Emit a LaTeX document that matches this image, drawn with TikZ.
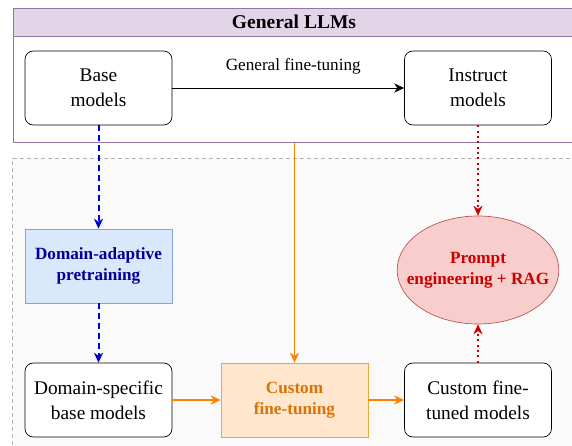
\documentclass[tikz,border=0pt]{standalone}
\usepackage{fontspec}
\setmainfont{Liberation Serif}
\usepackage{xcolor}
\definecolor{llmfill}{HTML}{E1D5E7}
\definecolor{llmdraw}{HTML}{9673A6}
\definecolor{daptfill}{HTML}{DAE8FC}
\definecolor{daptdraw}{HTML}{7EA6E0}
\definecolor{dapttext}{HTML}{000099}
\definecolor{cftfill}{HTML}{FFE6CC}
\definecolor{cftdraw}{HTML}{E6A93A}
\definecolor{cfttext}{HTML}{D97306}
\definecolor{ragfill}{HTML}{F8CECC}
\definecolor{ragdraw}{HTML}{B85450}
\definecolor{ragtext}{HTML}{CC0000}
\definecolor{myorange}{HTML}{FF8000}
\definecolor{myblue}{HTML}{0000CC}
\usetikzlibrary{
    shapes.geometric,
    arrows.meta,
    positioning
}
\tikzstyle{model} = [
    rectangle, draw,
    rounded corners=5pt,
    minimum width=88.2pt,
    minimum height=44.4pt,
    text centered,
    align=center,
    draw=black,
    fill=white,
    font=\fontsize{11.6}{14.8}\selectfont
]
\tikzstyle{method} = [
    rectangle, draw,
    minimum width=88.2pt,
    minimum height=44.4pt,
    text centered,
    align=center,
    font=\fontsize{10.3}{12.6}\selectfont\bfseries
]
\tikzstyle{arrow} = [
    ->,
    >={Stealth[length=6pt,width=5.5pt]}
]

\begin{document}
\begin{tikzpicture}[x=0.6pt, y=-0.6pt]
\useasboundingbox (0,0) rectangle (572,446);

% Gruppen
\fill[gray!4] (12.7,158) rectangle (580,452);
\draw[gray!60, dashed, dash pattern=on 2.4pt off 1.8pt] (12.7,452) -- (12.7,158) -- (580,158);

\node (general) [draw=llmdraw, fill=white, minimum width=340.4pt, minimum height=80.7pt,
    inner sep=0pt, anchor=north west] at (12.7,8) {};
\node (title) [draw=llmdraw, fill=llmfill, minimum width=340.4pt, minimum height=16.8pt,
    inner sep=0pt, anchor=north west] at (12.7,8) {};
\node (titletext) at (294,22) [font=\fontsize{11.7}{14}\selectfont\bfseries] {General LLMs};

% Modelle
\node (base) [model] at (98.5,88) {Base\\models};
\node (instruct) [model] at (478,88) {Instruct\\models};
\node (dapt) [method, draw=daptdraw, fill=daptfill, text=dapttext] at (98.5,266)
    {Domain-adaptive\\pretraining};
\node (dsbase) [model] at (98.5,400) {Domain-specific\\base models};
\node (custom) [method, draw=cftdraw, fill=cftfill, text=cfttext] at (294.5,400)
    {Custom\\fine-tuning};
\node (cftmodels) [model] at (478,400) {Custom fine-\\tuned models};
\node (rag) [ellipse, draw=ragdraw, fill=ragfill, text=ragtext, align=center,
    minimum height=64.8pt, inner xsep=-8.4pt, inner ysep=0pt,
    font=\fontsize{10.3}{12.6}\selectfont\bfseries] at (478,270)
    {Prompt\\engineering + RAG};

\draw [arrow, thin] (base) -- (instruct)
    node[midway, above=4.5pt, font=\fontsize{10.3}{12}\selectfont, xshift=3pt] {General fine-tuning};

\draw [arrow, myblue, line width=1.2pt, dash pattern=on 3.6pt off 2.4pt] (base) -- (dapt);
\draw [arrow, myblue, line width=1.2pt, dash pattern=on 3.6pt off 2.4pt] (dapt) -- (dsbase);

\draw [arrow, myorange, line width=1.1pt] (general.south -| custom.north) -- (custom);
\draw [arrow, myorange, line width=1.2pt] (dsbase) -- (custom);
\draw [arrow, myorange, line width=1.2pt] (custom) -- (cftmodels);

\draw [arrow, ragtext, line width=1.2pt, dotted] (instruct) -- (rag);
\draw [arrow, ragtext, line width=1.2pt, dotted] (cftmodels) -- (rag);

\end{tikzpicture}
\end{document}
